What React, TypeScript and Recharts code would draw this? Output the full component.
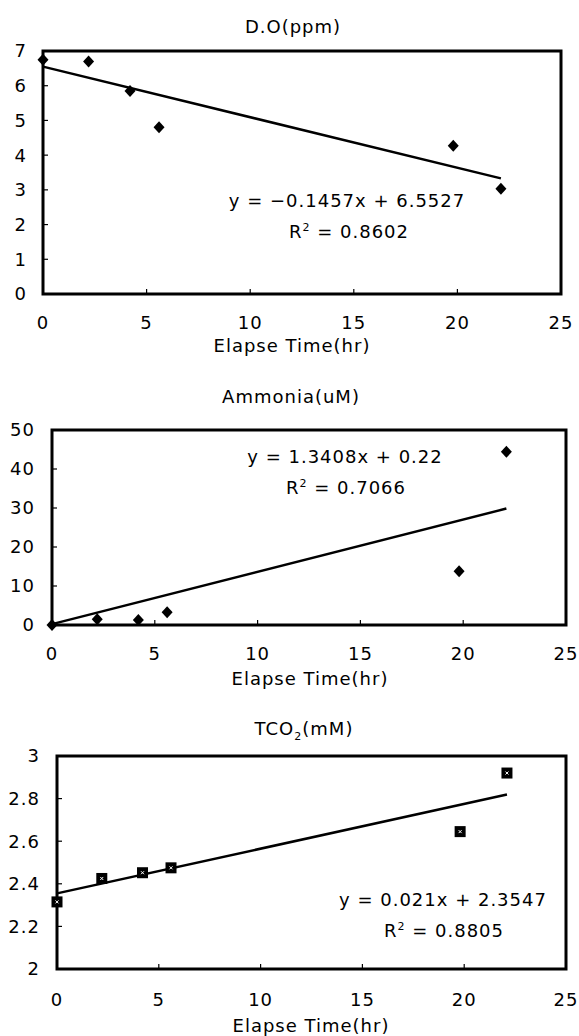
import React from "react";
import { ScatterChart, Scatter, XAxis, YAxis, ReferenceArea } from "recharts";

// sampling times (hr)
const hours = [0, 2.2, 4.2, 5.6, 19.8, 22.1];
const doPpm = [6.75, 6.7, 5.85, 4.8, 4.27, 3.03];
const ammoniaUM = [0, 1.5, 1.3, 3.3, 13.8, 44.4];
const tco2mM = [2.315, 2.425, 2.452, 2.475, 2.645, 2.92];

// linear trend line end points
const trendHours = [0, 22.1];
const doTrend = [6.55, 3.33];
const ammoniaTrend = [0.22, 29.85];
const tco2Trend = [2.355, 2.819];

const xTicks = [0, 5, 10, 15, 20, 25];
const doTicks = [0, 1, 2, 3, 4, 5, 6, 7];
const ammoniaTicks = [0, 10, 20, 30, 40, 50];
const tco2Ticks = [2, 2.2, 2.4, 2.6, 2.8, 3];

const FONT = "'DejaVu Sans', sans-serif";

function Txt({ x, y, children }: any) {
  return (
    <div
      style={{
        position: "absolute",
        left: x,
        top: y,
        transform: "translate(-50%, -50%)",
        whiteSpace: "nowrap",
        fontFamily: FONT,
        fontSize: 18,
        letterSpacing: 1,
        lineHeight: 1,
        color: "#000",
      }}
    >
      {children}
    </div>
  );
}

const Diamond = (p: any) => (
  <polygon
    points={`${p.cx},${p.cy - 6} ${p.cx + 5.5},${p.cy} ${p.cx},${p.cy + 6} ${p.cx - 5.5},${p.cy}`}
    fill="#000"
  />
);

const Square = (p: any) => (
  <g>
    <rect x={p.cx - 5.5} y={p.cy - 5.5} width={11} height={11} fill="#000" />
    <line x1={p.cx - 1.5} y1={p.cy - 1.5} x2={p.cx + 1.5} y2={p.cy + 1.5} stroke="#fff" strokeWidth={1} />
    <line x1={p.cx - 1.5} y1={p.cy + 1.5} x2={p.cx + 1.5} y2={p.cy - 1.5} stroke="#fff" strokeWidth={1} />
  </g>
);

function Panel({ top, box, labelRight, tickY, yTicks, values, trend, marker }: any) {
  const H = box.b - top + 60;
  const bb = box.b - top;
  const pts = hours.map((x, i) => ({ x, y: values[i] }));
  const line = trendHours.map((x, i) => ({ x, y: trend[i] }));
  const yMin = yTicks[0];
  const yMax = yTicks[yTicks.length - 1];

  const yTick = (p: any) => (
    <g>
      <line x1={box.l} x2={box.l + 5} y1={p.y} y2={p.y} stroke="#000" strokeWidth={1.2} />
      <text x={labelRight + 1} y={p.y} dy="0.36em" textAnchor="end" fontFamily={FONT} fontSize={18} letterSpacing={1} fill="#000">
        {p.payload.value}
      </text>
    </g>
  );
  const xTick = (p: any) => (
    <g>
      <line x1={p.x} x2={p.x} y1={bb} y2={bb - 5} stroke="#000" strokeWidth={1.2} />
      <text x={p.x} y={tickY - top} dy="0.36em" textAnchor="middle" fontFamily={FONT} fontSize={18} letterSpacing={1} fill="#000">
        {p.payload.value}
      </text>
    </g>
  );

  return (
    <div style={{ position: "absolute", left: 0, top, width: 579, height: H }}>
      <ScatterChart
        width={579}
        height={H}
        margin={{ top: box.t - top, right: 579 - box.r, bottom: 20, left: 0 }}
      >
        <XAxis
          type="number"
          dataKey="x"
          domain={[0, 25]}
          ticks={xTicks}
          axisLine={false}
          tickLine={false}
          tick={xTick}
          height={40}
          interval={0}
        />
        <YAxis
          type="number"
          dataKey="y"
          domain={[yMin, yMax]}
          ticks={yTicks}
          axisLine={false}
          tickLine={false}
          tick={yTick}
          width={box.l}
          interval={0}
        />
        <ReferenceArea
          x1={0}
          x2={25}
          y1={yMin}
          y2={yMax}
          fill="none"
          stroke="#000"
          strokeWidth={3}
          ifOverflow="visible"
        />
        <Scatter
          data={line}
          line={{ stroke: "#000", strokeWidth: 2.5 }}
          shape={() => <g />}
          isAnimationActive={false}
        />
        <Scatter data={pts} shape={marker} isAnimationActive={false} />
      </ScatterChart>
    </div>
  );
}

export default function App() {
  return (
    <div style={{ position: "absolute", left: 0, top: 0, width: 579, height: 1036, background: "#fff" }}>
      <Panel
        top={0}
        box={{ l: 43, r: 561, t: 51, b: 294 }}
        labelRight={26}
        tickY={323}
        yTicks={doTicks}
        values={doPpm}
        trend={doTrend}
        marker={Diamond}
      />
      <Txt x={293} y={27}>D.O(ppm)</Txt>
      <Txt x={347} y={201}>y = −0.1457x + 6.5527</Txt>
      <Txt x={349} y={231}>
        R<sup style={{ fontSize: 11 }}>2</sup> = 0.8602
      </Txt>
      <Txt x={292} y={346}>Elapse Time(hr)</Txt>

      <Panel
        top={360}
        box={{ l: 52, r: 566, t: 430, b: 625 }}
        labelRight={34}
        tickY={654}
        yTicks={ammoniaTicks}
        values={ammoniaUM}
        trend={ammoniaTrend}
        marker={Diamond}
      />
      <Txt x={291} y={397}>Ammonia(uM)</Txt>
      <Txt x={345} y={457}>y = 1.3408x + 0.22</Txt>
      <Txt x={346} y={487}>
        R<sup style={{ fontSize: 11 }}>2</sup> = 0.7066
      </Txt>
      <Txt x={310} y={679}>Elapse Time(hr)</Txt>

      <Panel
        top={700}
        box={{ l: 57, r: 566, t: 756, b: 969 }}
        labelRight={39}
        tickY={1000}
        yTicks={tco2Ticks}
        values={tco2mM}
        trend={tco2Trend}
        marker={Square}
      />
      <Txt x={304} y={731}>
        TCO<sub style={{ fontSize: 11 }}>2</sub>(mM)
      </Txt>
      <Txt x={443} y={900}>y = 0.021x + 2.3547</Txt>
      <Txt x={444} y={930}>
        R<sup style={{ fontSize: 11 }}>2</sup> = 0.8805
      </Txt>
      <Txt x={311} y={1026}>Elapse Time(hr)</Txt>
    </div>
  );
}
